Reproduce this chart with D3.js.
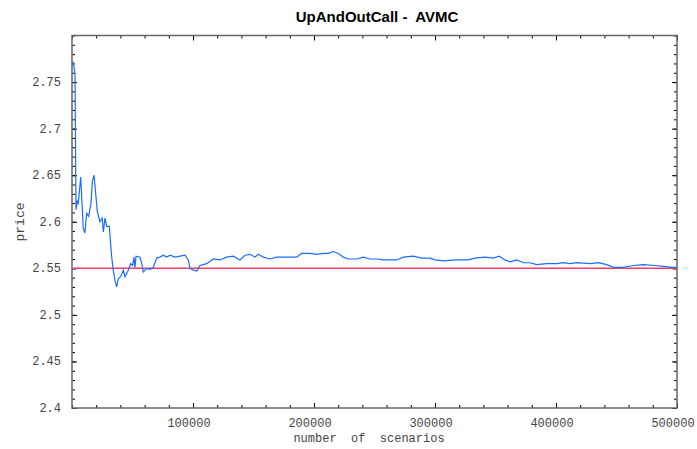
<!DOCTYPE html>
<html>
<head>
<meta charset="utf-8">
<script src="https://cdn.jsdelivr.net/npm/d3@7"></script>
<style>
  body { margin: 0; background: #fff; }
  svg text { fill: #444; }
</style>
</head>
<body>
<div id="graph"></div>
<script>
// scenarios read off the picture, and the running price estimate
var scenarios = [1000, 2480, 3300, 4400, 5200, 7200, 9300, 10700, 12100, 13800,
  15700, 16800, 18200, 19600, 20900, 23100, 25000, 25900, 27300, 28700,
  30800, 32800, 34100, 35500, 36900, 38300, 40200, 42400, 43800, 46500,
  48500, 50200, 51200, 52100, 52900, 56200, 57600, 58900, 61700, 64500,
  67200, 70000, 72700, 75500, 78300, 81000, 85100, 89300, 93400, 96100,
  97500, 100200, 103100, 105800, 111300, 116800, 122300, 127800, 133300, 138800,
  143000, 147100, 151200, 154000, 158100, 163600, 169200, 174600, 185700, 189800,
  196700, 202200, 207700, 211800, 215900, 220100, 224200, 228400, 235300, 240700,
  246300, 251800, 257300, 268300, 273800, 282100, 289000, 295900, 300000, 306800,
  317900, 327500, 333000, 341300, 348200, 353100, 357800, 362000, 367500, 373000,
  378500, 384000, 392300, 400600, 406000, 411500, 417100, 428100, 435000, 441900,
  447500, 455700, 464000, 472200, 481800, 488700, 495600, 500000];
var prices = [2.772, 2.759, 2.613, 2.622, 2.620, 2.648, 2.593, 2.588, 2.609, 2.606,
  2.620, 2.643, 2.650, 2.630, 2.611, 2.600, 2.604, 2.589, 2.604, 2.595,
  2.595, 2.562, 2.548, 2.537, 2.530, 2.539, 2.541, 2.548, 2.541, 2.548,
  2.555, 2.553, 2.562, 2.551, 2.563, 2.562, 2.555, 2.546, 2.550, 2.549,
  2.551, 2.561, 2.562, 2.564, 2.562, 2.564, 2.562, 2.563, 2.564, 2.559,
  2.550, 2.548, 2.547, 2.553, 2.555, 2.560, 2.559, 2.562, 2.563, 2.559,
  2.564, 2.565, 2.562, 2.565, 2.562, 2.560, 2.562, 2.562, 2.562, 2.566,
  2.566, 2.565, 2.566, 2.566, 2.568, 2.566, 2.562, 2.560, 2.560, 2.562,
  2.560, 2.560, 2.559, 2.559, 2.562, 2.563, 2.561, 2.561, 2.559, 2.558,
  2.559, 2.559, 2.561, 2.562, 2.561, 2.563, 2.559, 2.557, 2.559, 2.556,
  2.556, 2.554, 2.555, 2.555, 2.556, 2.555, 2.556, 2.555, 2.556, 2.554,
  2.551, 2.551, 2.553, 2.554, 2.553, 2.552, 2.551, 2.551];
var referencePrice = 2.55;
var xTickValues = [100000, 200000, 300000, 400000, 500000];
var yTickValues = [2.4, 2.45, 2.5, 2.55, 2.6, 2.65, 2.7, 2.75];
var title = "UpAndOutCall -  AVMC";

(function() {
var W = 697, H = 449;
var pL = 72, pR = 677, pT = 35.5, pB = 408;

var svg = d3.select("#graph").append("svg")
    .attr("width", W).attr("height", H);

var x = d3.scaleLinear().domain([0, 500000]).range([pL, pR]);
var y = d3.scaleLinear().domain([2.4, 2.8]).range([pB, pT]);

var data = scenarios.map(function(s, i) { return [s, prices[i]]; });

// minor/major ticks pointing inward on all four sides
function ticks(axisFn, scale, values, len) {
    return axisFn(scale).tickValues(values).tickSize(len).tickFormat("");
}
var xMinor = d3.range(0, 500001, 20000);
var yMinor = d3.range(0, 41).map(function(i) { return 2.4 + i * 0.01; });

function drawTicks(g) {
    g.selectAll(".domain").remove();
    g.selectAll("line").attr("stroke", "#000");
}
svg.append("g").attr("transform", "translate(0," + pB + ")")
    .call(ticks(d3.axisTop, x, xMinor, 3)).call(drawTicks);
svg.append("g").attr("transform", "translate(0," + pB + ")")
    .call(ticks(d3.axisTop, x, xTickValues, 5)).call(drawTicks);
svg.append("g").attr("transform", "translate(0," + pT + ")")
    .call(ticks(d3.axisBottom, x, xMinor, 3)).call(drawTicks);
svg.append("g").attr("transform", "translate(0," + pT + ")")
    .call(ticks(d3.axisBottom, x, xTickValues, 5)).call(drawTicks);
svg.append("g").attr("transform", "translate(" + pL + ",0)")
    .call(ticks(d3.axisRight, y, yMinor, 3)).call(drawTicks);
svg.append("g").attr("transform", "translate(" + pL + ",0)")
    .call(ticks(d3.axisRight, y, yTickValues, 5)).call(drawTicks);
svg.append("g").attr("transform", "translate(" + pR + ",0)")
    .call(ticks(d3.axisLeft, y, yMinor, 3)).call(drawTicks);
svg.append("g").attr("transform", "translate(" + pR + ",0)")
    .call(ticks(d3.axisLeft, y, yTickValues, 5)).call(drawTicks);

// frame
svg.append("rect")
    .attr("x", pL).attr("y", pT)
    .attr("width", pR - pL).attr("height", pB - pT)
    .attr("fill", "none").attr("stroke", "#666").attr("stroke-width", 1.5);

// tick labels
svg.append("g").selectAll("text").data(yTickValues).enter().append("text")
    .attr("x", pL - 11).attr("y", function(d) { return y(d) + 4; })
    .attr("text-anchor", "end")
    .style("font", "12px 'Liberation Mono', monospace")
    .text(function(d) { return d; });

svg.append("g").selectAll("text").data(xTickValues).enter().append("text")
    .attr("x", function(d) { return x(d) - 4; }).attr("y", 427)
    .attr("text-anchor", "middle")
    .style("font", "12px 'Liberation Mono', monospace")
    .text(function(d) { return d; });

// reference price
svg.append("line")
    .attr("x1", pL).attr("x2", pR)
    .attr("y1", y(referencePrice)).attr("y2", y(referencePrice))
    .attr("stroke", "#ff3b6b").attr("stroke-width", 1.5);

// convergence line
var line = d3.line()
    .x(function(d) { return x(d[0]); })
    .y(function(d) { return y(d[1]); });

svg.append("path").datum(data)
    .attr("d", line)
    .attr("fill", "none")
    .attr("stroke", "#1a6dff")
    .attr("stroke-width", 1.2);

// titles
svg.append("text")
    .attr("x", 377).attr("y", 22)
    .attr("text-anchor", "middle")
    .style("font", "bold 15px 'Liberation Sans', Arial, sans-serif")
    .style("fill", "#000")
    .style("white-space", "pre")
    .text(title);

svg.append("text")
    .attr("x", 369).attr("y", 442)
    .attr("text-anchor", "middle")
    .style("font", "12px 'Liberation Mono', monospace")
    .style("white-space", "pre")
    .text("number  of  scenarios");

svg.append("text")
    .attr("transform", "translate(24,222) rotate(-90)")
    .attr("text-anchor", "middle")
    .style("font", "13px 'Liberation Mono', monospace")
    .text("price");
})();
</script>
</body>
</html>
